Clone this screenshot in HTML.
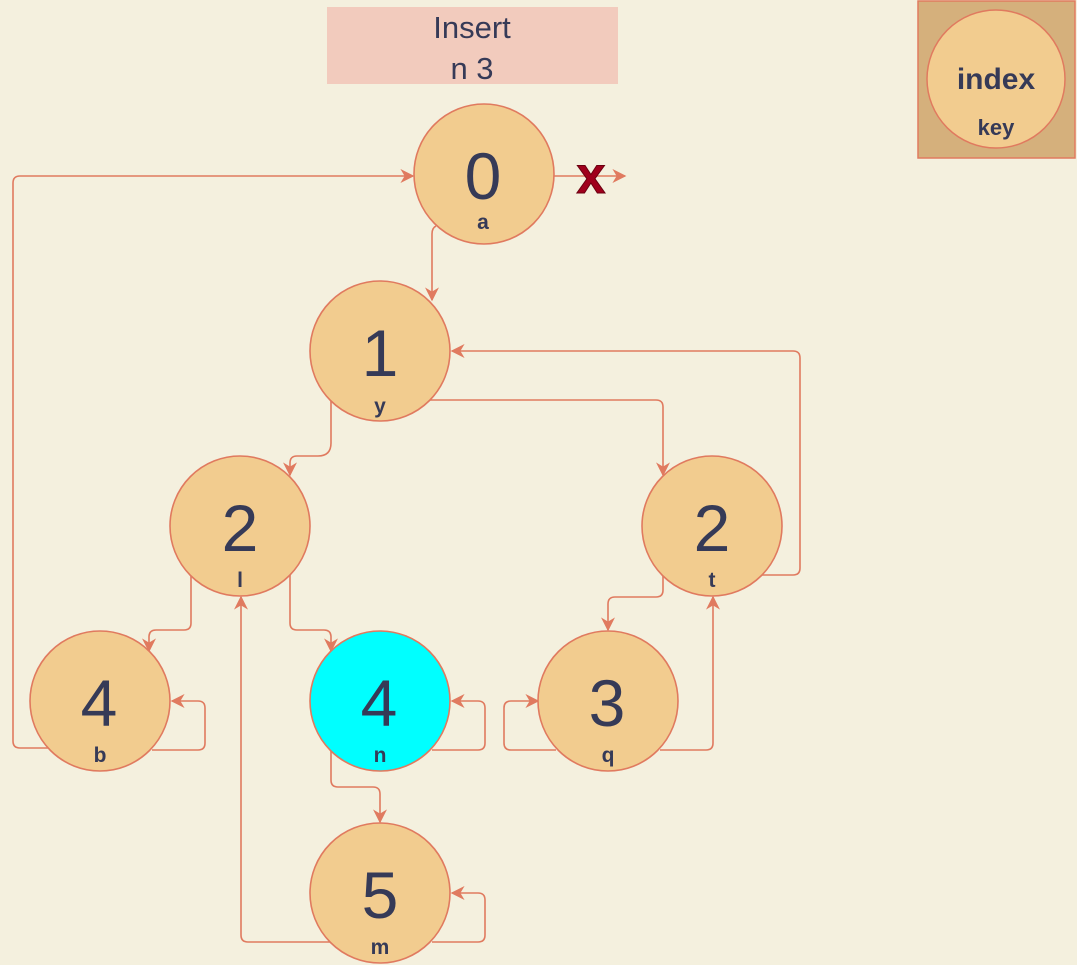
<!DOCTYPE html>
<html><head><meta charset="utf-8"><style>
html,body{margin:0;padding:0;background:#f4f0de;}
svg{display:block;}
text{font-family:"Liberation Sans",sans-serif;fill:#363a57;}
</style></head><body>
<svg width="1077" height="965" viewBox="0 0 1077 965" xmlns="http://www.w3.org/2000/svg">
<defs>
<marker id="a" viewBox="0 0 10 10" refX="9" refY="5" markerWidth="14" markerHeight="14" orient="auto" markerUnits="userSpaceOnUse">
<path d="M0,0 L10,5 L0,10 L3,5 z" fill="#e07a5f"/></marker>
</defs>
<rect width="1077" height="965" fill="#f4f0de"/>
<rect x="327" y="7" width="291" height="77" fill="#f2cbbd"/>
<text x="472" y="38" font-size="31" text-anchor="middle">Insert</text>
<text x="472" y="79" font-size="31" text-anchor="middle">n 3</text>
<rect x="918" y="1" width="157" height="157" fill="#d5b07c" stroke="#e07a5f" stroke-width="1.5"/>
<circle cx="996" cy="79" r="69" fill="#f2cc8f" stroke="#e07a5f" stroke-width="1.5"/>
<text x="996" y="89" font-size="30" font-weight="bold" text-anchor="middle">index</text>
<text x="996" y="135" font-size="22" font-weight="bold" text-anchor="middle">key</text>
<g fill="none" stroke="#e07a5f" stroke-width="1.6" marker-end="url(#a)">
<path d="M48,748 H20 Q13,748 13,741 V183 Q13,176 20,176 H413"/>
<path d="M436,226 Q432,228 432,234 V300"/>
<path d="M331,400 V443 Q331,456 318,456 H297 Q290,456 290,463 V475"/>
<path d="M430,400 H656 Q663,400 663,407 V475"/>
<path d="M760,575 H793 Q800,575 800,568 V358 Q800,351 793,351 H452"/>
<path d="M191,575 V623 Q191,630 184,630 H156 Q149,630 149,637 V651"/>
<path d="M290,575 V623 Q290,630 297,630 H324 Q331,630 331,637 V651"/>
<path d="M663,575 V590 Q663,597 656,597 H615 Q608,597 608,604 V630"/>
<path d="M660,750 H706 Q713,750 713,743 V597"/>
<path d="M556,750 H511 Q504,750 504,743 V708 Q504,701 511,701 H538"/>
<path d="M152,750 H198 Q205,750 205,743 V708 Q205,701 198,701 H172"/>
<path d="M432,750 H478 Q485,750 485,743 V708 Q485,701 478,701 H452"/>
<path d="M331,750 V780 Q331,787 338,787 H373 Q380,787 380,794 V822"/>
<path d="M330,942 H248 Q241,942 241,935 V597"/>
<path d="M432,942 H478 Q485,942 485,935 V900 Q485,893 478,893 H452"/>
<path d="M554,176 H625"/>
</g>
<g stroke="#e07a5f" stroke-width="1.6">
<circle cx="484" cy="174" r="70" fill="#f2cc8f"/>
<circle cx="380" cy="351" r="70" fill="#f2cc8f"/>
<circle cx="240" cy="526" r="70" fill="#f2cc8f"/>
<circle cx="712" cy="526" r="70" fill="#f2cc8f"/>
<circle cx="100" cy="701" r="70" fill="#f2cc8f"/>
<circle cx="380" cy="701" r="70" fill="#00ffff"/>
<circle cx="608" cy="701" r="70" fill="#f2cc8f"/>
<circle cx="380" cy="893" r="70" fill="#f2cc8f"/>
</g>
<text x="591" y="193" font-size="52" font-weight="bold" text-anchor="middle" style="fill:#a0001c" stroke="#6a0010" stroke-width="1">x</text>
<g font-size="66" text-anchor="middle">
<text x="483" y="199">0</text>
<text x="380" y="376">1</text>
<text x="240" y="551">2</text>
<text x="712" y="551">2</text>
<text x="99" y="726">4</text>
<text x="379" y="726">4</text>
<text x="607" y="726">3</text>
<text x="380" y="918">5</text>
</g>
<g font-size="21" font-weight="bold" text-anchor="middle">
<text x="483" y="229">a</text>
<text x="380" y="413">y</text>
<text x="240" y="587">l</text>
<text x="712" y="587">t</text>
<text x="100" y="762">b</text>
<text x="380" y="762">n</text>
<text x="608" y="762">q</text>
<text x="380" y="954">m</text>
</g>
</svg>
</body></html>
